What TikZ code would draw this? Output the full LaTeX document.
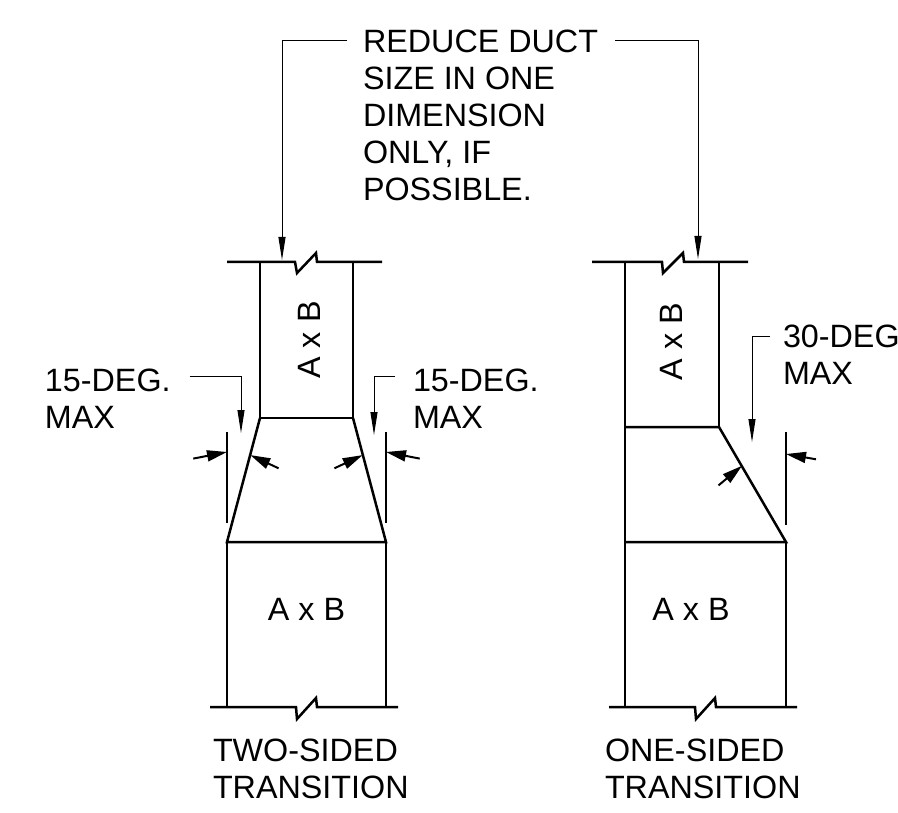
\documentclass[tikz,border=0pt]{standalone}
\usepackage{fontspec}
\setmainfont{Liberation Sans}
\usetikzlibrary{arrows.meta}
\tikzset{
  outline/.style={line width=2.5pt, line cap=butt, line join=miter},
  extline/.style={line width=2pt},
  leader/.style={line width=1pt, -{Triangle[length=23pt,width=7pt]}},
  dimarrow/.style={line width=2pt, -{Triangle[length=20pt,width=11pt]}},
  label/.style={inner sep=0pt, outer sep=0pt, align=left, anchor=north west,
    font=\fontsize{32.3}{37}\selectfont},
  size/.style={inner sep=0pt, outer sep=0pt, font=\fontsize{32.3}{37}\selectfont}
}
\begin{document}
\begin{tikzpicture}[x=1pt,y=-1pt]
\useasboundingbox[fill=white] (0,0) rectangle (898,813);

% ---------- labels ----------
\node[label] (note) at (363,30) {REDUCE DUCT\\SIZE IN ONE\\DIMENSION\\ONLY, IF\\POSSIBLE.};
\node[label] (l15) at (45,369) {15-DEG.\\MAX};
\node[label] (r15) at (413,369) {15-DEG.\\MAX};
\node[label] (d30) at (783,325) {30-DEG\\MAX};
\node[label] (two) at (213,739) {TWO-SIDED\\TRANSITION};
\node[label] (one) at (605,739) {ONE-SIDED\\TRANSITION};

\node[size] (ab1) at (306.5,609.5) {A x B};
\node[size] (ab2) at (691,609) {A x B};
\node[size, rotate=90] (ab3) at (309,340) {A x B};
\node[size, rotate=90] (ab4) at (671.5,341.5) {A x B};

% ---------- two-sided transition ----------
\draw[outline] (227,262) -- (295,262) -- (297,273) -- (316,253) -- (317,262) -- (382,262);
\draw[outline] (260,262) -- (260,418) -- (353,418) -- (353,262);
\draw[outline] (260,418) -- (227,542) -- (386,542) -- (353,418);
\draw[outline] (227,542) -- (227,707);
\draw[outline] (386,542) -- (386,707);
\draw[outline] (210,707) -- (296,707) -- (297,719) -- (316,698) -- (317,707) -- (398,707);

% extension lines
\draw[extline] (227,432) -- (227,523);
\draw[extline] (386,432) -- (386,523);

% angle dimension arrows
\coordinate (lo1) at (193.3,458.6); \coordinate (lo2) at (227,452);
\coordinate (li1) at (278.6,468.3); \coordinate (li2) at (250.3,455.1);
\coordinate (ro1) at (419.7,458.6); \coordinate (ro2) at (386,452);
\coordinate (ri1) at (334.4,468.3); \coordinate (ri2) at (362.7,455.1);
\draw[dimarrow] (lo1) -- (lo2);
\draw[dimarrow] (li1) -- (li2);
\draw[dimarrow] (ro1) -- (ro2);
\draw[dimarrow] (ri1) -- (ri2);

% ---------- one-sided transition ----------
\draw[outline] (592,262) -- (662,262) -- (663,273) -- (683,253) -- (684,262) -- (748,262);
\draw[outline] (625,262) -- (625,707);
\draw[outline] (719,262) -- (719,427);
\draw[outline] (625,427) -- (719,427) -- (786,542) -- (625,542);
\draw[outline] (786,542) -- (786,707);
\draw[outline] (609,707) -- (695,707) -- (696,719) -- (715,698) -- (716,707) -- (797,707);

\draw[extline] (786,432) -- (786,525);
\coordinate (so1) at (816,459.3); \coordinate (so2) at (786,454);
\coordinate (si1) at (718.5,485.4); \coordinate (si2) at (742,465.8);
\draw[dimarrow] (so1) -- (so2);
\draw[dimarrow] (si1) -- (si2);

% ---------- leaders ----------
\coordinate (tipA) at (282,260);
\coordinate (tipB) at (698,259);
\coordinate (tipC) at (241,433);
\coordinate (tipD) at (374,435);
\coordinate (tipE) at (752,442);
\draw[leader] ([xshift=-16pt,yshift=-11pt]note.north west) -| (tipA);
\draw[leader] ([xshift=17pt,yshift=-11pt]note.north east) -| (tipB);
\draw[leader] ([xshift=19pt,yshift=-8pt]l15.north east) -| (tipC);
\draw[leader] ([xshift=-18pt,yshift=-8pt]r15.north west) -| (tipD);
\draw[leader] ([xshift=-13pt,yshift=-12pt]d30.north west) -| (tipE);
\end{tikzpicture}
\end{document}
